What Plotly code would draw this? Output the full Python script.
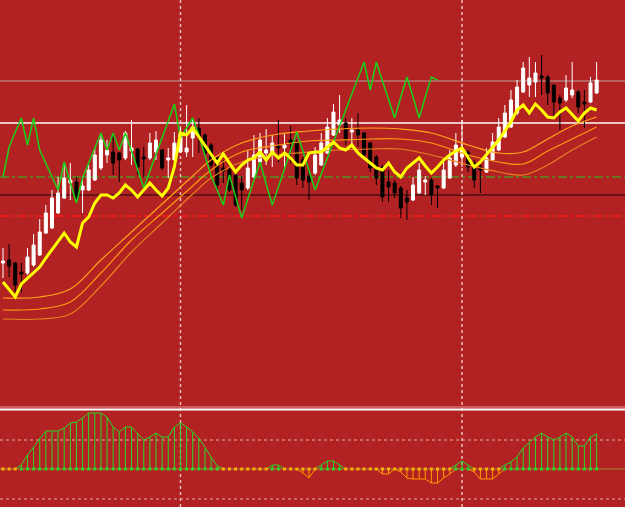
import plotly.graph_objects as go

# ---------------- data (price points) ----------------
open_ = [137, 140, 137, 128, 127, 135, 145, 167, 172, 187, 202, 217, 218, 210, 210, 220, 232, 245, 248, 247,
         242, 249, 251, 243, 242, 248, 250, 240, 240, 248, 248, 262, 272, 265, 255, 242, 232, 230, 225, 217,
         212, 223, 238, 247, 247, 254, 252, 260, 257, 240, 224, 227, 235, 247, 265, 275, 277, 268, 270, 267,
         257, 243, 233, 218, 217, 212, 202, 200, 207, 218, 220, 214, 212, 222, 235, 243, 248, 237, 233, 228,
         240, 250, 263, 273, 287, 308, 315, 318, 324, 323, 315, 302, 300, 305, 308, 298, 298, 307]
high = [152, 156, 138, 137, 152, 166, 181, 195, 210, 223, 237, 237, 223, 224, 235, 252, 267, 260, 267, 248,
        269, 280, 252, 253, 267, 269, 251, 252, 268, 272, 295, 282, 282, 267, 257, 243, 240, 233, 225, 224,
        250, 265, 267, 271, 265, 280, 267, 274, 260, 243, 230, 253, 267, 282, 296, 305, 282, 282, 287, 268,
        258, 245, 235, 230, 220, 214, 210, 223, 237, 224, 222, 215, 238, 250, 267, 280, 250, 240, 235, 252,
        267, 282, 295, 310, 320, 338, 343, 338, 345, 325, 315, 305, 325, 338, 310, 310, 323, 338]
low = [122, 123, 108, 107, 125, 133, 144, 166, 171, 186, 201, 200, 200, 187, 209, 219, 230, 237, 225, 218,
       240, 235, 225, 223, 240, 240, 230, 222, 239, 247, 243, 243, 247, 245, 230, 210, 217, 208, 193, 190,
       210, 222, 235, 235, 233, 238, 233, 237, 215, 212, 200, 225, 234, 246, 264, 267, 255, 255, 253, 242,
       228, 215, 198, 198, 202, 182, 180, 199, 206, 205, 195, 192, 211, 221, 233, 233, 228, 212, 207, 227,
       239, 249, 262, 272, 285, 307, 303, 303, 305, 295, 283, 270, 298, 302, 287, 272, 297, 306]
close = [139, 134, 115, 126, 143, 155, 168, 187, 202, 207, 222, 220, 203, 214, 230, 245, 260, 250, 237, 240,
         267, 252, 233, 241, 257, 260, 232, 242, 257, 267, 252, 273, 263, 247, 235, 215, 229, 210, 195, 210,
         232, 245, 260, 250, 257, 252, 255, 257, 222, 220, 218, 245, 257, 273, 288, 280, 260, 270, 265, 245,
         232, 222, 203, 213, 207, 192, 198, 215, 230, 220, 205, 212, 230, 242, 255, 250, 233, 220, 230, 242,
         258, 273, 287, 300, 313, 332, 322, 327, 322, 307, 298, 297, 312, 310, 293, 296, 317, 320]

# thick yellow line
yellow = [118, 110, 103, 116, 122, 127, 133, 142, 150, 158, 167, 158, 153, 177, 183, 197, 205, 205, 202, 207,
          215, 210, 203, 210, 217, 210, 204, 212, 233, 267, 265, 272, 263, 255, 245, 237, 246, 237, 228, 235,
          240, 242, 248, 240, 248, 242, 247, 242, 235, 235, 247, 248, 248, 253, 258, 252, 250, 255, 247, 242,
          237, 232, 230, 237, 228, 223, 232, 237, 242, 234, 227, 233, 240, 245, 249, 252, 242, 233, 238, 245,
          252, 260, 269, 278, 290, 295, 287, 296, 290, 283, 282, 288, 292, 285, 279, 287, 292, 290]

# green lagging line (bars 0..71)
green = [223, 253, 268, 282, 255, 282, 250, 237, 223, 210, 238, 218, 197, 222, 237, 252, 267, 250, 267, 250,
         267, 249, 230, 212, 229, 245, 262, 279, 296, 262, 272, 282, 265, 244, 224, 210, 195, 225, 203, 182,
         201, 219, 238, 216, 195, 213, 231, 250, 268, 249, 229, 210, 226, 242, 258, 274, 290, 306, 322, 338,
         310, 338, 319, 300, 282, 303, 323, 303, 282, 303, 323, 320]

# orange band lines (sampled bars)
band_idx = [0, 6, 11, 16, 21, 26, 31, 34, 39, 45, 50, 55, 60, 65, 70, 76, 81, 85, 89, 93, 97]
band_upper = [102, 103, 111, 140, 168, 196, 224, 240, 257, 266, 269, 271, 272, 271, 267, 255, 247, 248, 261, 274, 283]
band_mid = [90, 91, 98, 127, 160, 187, 214, 230, 248, 255, 259, 260, 261, 261, 257, 245, 238, 236, 249, 261, 273]
band_lower = [81, 81, 86, 114, 148, 177, 206, 222, 238, 245, 248, 250, 251, 251, 245, 235, 228, 225, 235, 250, 263]

# horizontal price levels
level_gray = 319
level_white = 277
level_green = 223
level_dark = 205
level_red = 184

# period separators (bar index)
separators = [29, 75]

# oscillator (lower panel)
osc = [0, 0, 0, 4, 14, 22, 31, 38, 38, 38, 41, 46, 47, 51, 56, 56, 56, 52, 42, 37,
       42, 42, 36, 29, 32, 36, 32, 32, 42, 46, 42, 37, 31, 21, 12, 3, 0, 0, 0, 0,
       0, 0, 0, 0, 4, 4, 0, 0, 0, -4, -9, 0, 4, 8, 8, 4, 0, 0, 0, 0,
       0, 0, -5, -5, 0, -3, -9, -10, -10, -10, -14, -14, -9, -5, 4, 8, 4, -3, -10, -10,
       -10, -5, 4, 7, 12, 21, 27, 32, 36, 32, 29, 32, 36, 32, 23, 23, 32, 35]
osc_levels = [29, -30]

# ---------------- figure ----------------
BG = '#B22222'
n = len(close)
x = list(range(n))
fig = go.Figure()

band_x = band_idx
for vals, col in [(band_upper, '#FFA21A'), (band_mid, '#FF9A10'), (band_lower, '#E8821E')]:
    fig.add_trace(go.Scatter(x=band_x, y=vals, mode='lines',
                             line=dict(color=col, width=1.2, shape='spline', smoothing=1.0),
                             hoverinfo='skip'))

fig.add_trace(go.Candlestick(
    x=x, open=open_, high=high, low=low, close=close,
    increasing=dict(line=dict(color='#FFFFFF', width=1), fillcolor='#FFFFFF'),
    decreasing=dict(line=dict(color='#000000', width=1), fillcolor='#000000'),
    whiskerwidth=0, hoverinfo='skip'))

fig.add_trace(go.Scatter(x=list(range(len(green))), y=green, mode='lines',
                         line=dict(color='#19D219', width=1.5), hoverinfo='skip'))
fig.add_trace(go.Scatter(x=x, y=yellow, mode='lines',
                         line=dict(color='#FFFF00', width=3), hoverinfo='skip'))

# ---- oscillator panel ----
hx_pos, hy_pos, hx_neg, hy_neg = [], [], [], []
for i, v in enumerate(osc):
    if v > 0:
        hx_pos += [i, i, None]
        hy_pos += [0, v, None]
    elif v < 0:
        hx_neg += [i, i, None]
        hy_neg += [0, v, None]
fig.add_trace(go.Scatter(x=hx_pos, y=hy_pos, mode='lines', line=dict(color='#2BD62B', width=1),
                         xaxis='x', yaxis='y2', hoverinfo='skip'))
fig.add_trace(go.Scatter(x=hx_neg, y=hy_neg, mode='lines', line=dict(color='#FF9A00', width=1),
                         xaxis='x', yaxis='y2', hoverinfo='skip'))

pos_line, neg_line = [], []
for i, v in enumerate(osc):
    prev_v = osc[i - 1] if i > 0 else 0
    next_v = osc[i + 1] if i < n - 1 else 0
    pos_line.append(max(v, 0) if (v > 0 or prev_v > 0 or next_v > 0) else None)
    neg_line.append(min(v, 0) if (v < 0 or prev_v < 0 or next_v < 0) else None)
fig.add_trace(go.Scatter(x=x, y=neg_line, mode='lines', line=dict(color='#FF9A00', width=1),
                         xaxis='x', yaxis='y2', hoverinfo='skip', connectgaps=False))
fig.add_trace(go.Scatter(x=x, y=pos_line, mode='lines', line=dict(color='#2BD62B', width=1),
                         xaxis='x', yaxis='y2', hoverinfo='skip', connectgaps=False))
fig.add_trace(go.Scatter(x=x, y=[0] * n, mode='markers',
                         marker=dict(symbol='square', size=3,
                                     color=['#2BD62B' if v > 0 else '#FFB000' for v in osc]),
                         xaxis='x', yaxis='y2', hoverinfo='skip'))

shapes = []
# main panel levels
for lvl, col, w, dash in [(level_gray, '#B4A2A2', 1, 'solid'),
                          (level_white, '#FFFFFF', 1.5, 'solid'),
                          (level_green, '#22CC22', 1, 'dashdot'),
                          (level_dark, '#4A1010', 1.5, 'solid'),
                          (level_red, '#FF1A1A', 1.5, 'dashdot')]:
    shapes.append(dict(type='line', xref='paper', x0=0, x1=1, yref='y', y0=lvl, y1=lvl,
                       line=dict(color=col, width=w, dash=dash), layer='below'))
# oscillator zero line and levels
shapes.append(dict(type='line', xref='paper', x0=0, x1=1, yref='y2', y0=0, y1=0,
                   line=dict(color='#9C8A3C', width=1), layer='below'))
for lvl in osc_levels:
    shapes.append(dict(type='line', xref='paper', x0=0, x1=1, yref='y2', y0=lvl, y1=lvl,
                       line=dict(color='#E0A8A8', width=1, dash='3px,3px'), layer='below'))
# separator between panels
shapes.append(dict(type='line', xref='paper', x0=0, x1=1, yref='paper', y0=1 - 407 / 507, y1=1 - 407 / 507,
                   line=dict(color='#E89A9A', width=1)))
shapes.append(dict(type='line', xref='paper', x0=0, x1=1, yref='paper', y0=1 - 409.5 / 507, y1=1 - 409.5 / 507,
                   line=dict(color='#FFFFFF', width=2)))
# period separators
for s in separators:
    shapes.append(dict(type='line', xref='x', x0=s, x1=s, yref='paper', y0=0, y1=1,
                       line=dict(color='#E8BCBC', width=1.5, dash='3px,3px'), layer='below'))

px_per_bar = 6.12
x0 = -3 / px_per_bar
fig.update_layout(
    width=625, height=507, margin=dict(l=0, r=0, t=0, b=0),
    paper_bgcolor=BG, plot_bgcolor=BG, showlegend=False,
    shapes=shapes,
    xaxis=dict(range=[x0, x0 + 625 / px_per_bar], visible=False, showgrid=False, zeroline=False,
               rangeslider=dict(visible=False), fixedrange=True),
    yaxis=dict(domain=[102 / 507, 1], range=[-5, 400], visible=False, showgrid=False, zeroline=False),
    yaxis2=dict(domain=[0, 96 / 507], range=[-38, 58], visible=False, showgrid=False, zeroline=False),
)

fig.write_html("out.html")
